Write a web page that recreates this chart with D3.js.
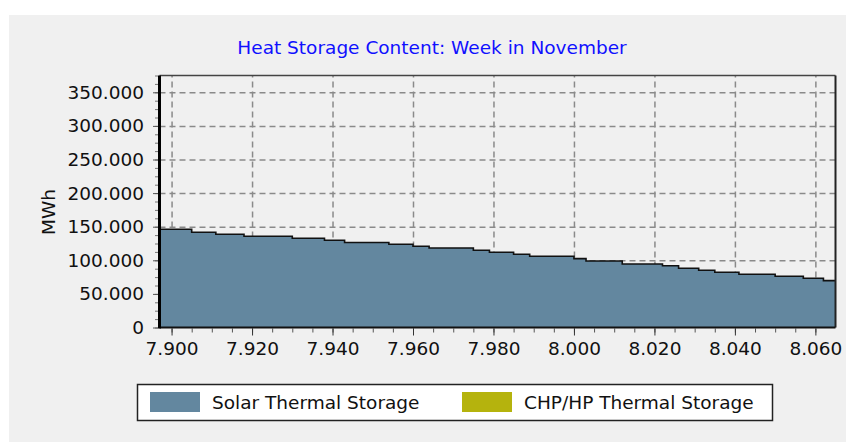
<!DOCTYPE html>
<meta charset="utf-8">
<style>
body { margin: 0; background: #fff; }
text { font-family: "DejaVu Sans", sans-serif; fill: #111; }
.grid line { stroke: #8a8a8a; stroke-width: 1.5px; stroke-dasharray: 6,4; }
.grid path { stroke-width: 0; }
</style>
<body>
<script src="https://d3js.org/d3.v7.min.js"></script>
<script>

// data (hours of the year, MWh)
var hours = [7897, 7905, 7911, 7918, 7930, 7938, 7943, 7954, 7960, 7964, 7975, 7979, 7985,
             7989, 8000, 8003, 8012, 8022, 8026, 8031, 8035, 8041, 8050, 8057, 8062, 8065];
var solarValues = [146200, 141800, 138800, 135800, 132800, 129900, 126600, 123900, 120900,
                   118400, 115000, 112000, 109000, 106000, 102500, 99000, 94600, 92000,
                   88200, 85200, 82200, 79200, 76200, 73300, 69700, 69700];
var chpValues = hours.map(function() { return 0; });
var seriesNames = ["Solar Thermal Storage", "CHP/HP Thermal Storage"];
var seriesColors = ["#63879f", "#b5b30d"];
var xMajorTicks = [7900, 7920, 7940, 7960, 7980, 8000, 8020, 8040, 8060];
var yMajorTicks = [0, 50000, 100000, 150000, 200000, 250000, 300000, 350000];
var titleText = "Heat Storage Content: Week in November";
var yLabel = "MWh";

var W = 846, H = 442;
var plot = {left: 159.5, right: 835.5, top: 75.5, bottom: 327.5};

var de = d3.formatLocale({decimal: ",", thousands: ".", grouping: [3], currency: ["", "€"]});
var fmt = de.format(",d");

var x = d3.scaleLinear().domain([7897, 8065]).range([plot.left, plot.right]);
var y = d3.scaleLinear().domain([0, 375000]).range([plot.bottom, plot.top]);

var svg = d3.select("body").append("svg")
    .attr("width", W)
    .attr("height", H);

// grey panel
svg.append("rect")
    .attr("x", 9).attr("y", 15)
    .attr("width", W - 9).attr("height", H - 15)
    .attr("fill", "#f0f0f0");

// title
svg.append("text")
    .attr("x", 432).attr("y", 54)
    .attr("text-anchor", "middle")
    .style("font-size", "18.5px")
    .style("fill", "#1010ff")
    .text(titleText);

// gridlines
svg.append("g")
    .attr("class", "grid")
    .attr("transform", "translate(" + plot.left + ",0)")
    .call(d3.axisLeft(y).tickValues(yMajorTicks.slice(1))
        .tickSize(-(plot.right - plot.left)).tickFormat(""));

svg.append("g")
    .attr("class", "grid")
    .attr("transform", "translate(0," + plot.bottom + ")")
    .call(d3.axisBottom(x).tickValues(xMajorTicks)
        .tickSize(-(plot.bottom - plot.top)).tickFormat(""));

// stacked series
var rows = hours.map(function(h, i) { return {h: h, solar: solarValues[i], chp: chpValues[i]}; });
var stack = d3.stack().keys(["solar", "chp"])(rows);

var area = d3.area()
    .curve(d3.curveStepAfter)
    .x(function(d) { return x(d.data.h); })
    .y0(function(d) { return y(d[0]); })
    .y1(function(d) { return y(d[1]); });

svg.selectAll(".series")
    .data(stack)
  .enter().append("path")
    .attr("class", "series")
    .attr("fill", function(d, i) { return seriesColors[i]; })
    .attr("d", area);

var topLine = d3.line()
    .curve(d3.curveStepAfter)
    .x(function(d) { return x(d.data.h); })
    .y(function(d) { return y(d[1]); });

svg.append("path")
    .datum(stack[0])
    .attr("fill", "none")
    .attr("stroke", "#111")
    .attr("stroke-width", 1.6)
    .attr("d", topLine);

// y axis ticks (minor + major)
var yMinor = d3.range(0, 375001, 12500);
var yAxisG = svg.append("g").attr("transform", "translate(" + (plot.left - 1.5) + ",0)");
yAxisG.call(d3.axisLeft(y).tickValues(yMinor).tickSize(3).tickFormat(""));
yAxisG.selectAll(".tick line").attr("stroke", "#777");
yAxisG.select(".domain").remove();

var yMajG = svg.append("g").attr("transform", "translate(" + (plot.left - 1.5) + ",0)");
yMajG.call(d3.axisLeft(y).tickValues(yMajorTicks).tickSize(5).tickPadding(9).tickFormat(fmt));
yMajG.select(".domain").remove();
yMajG.selectAll(".tick line").attr("stroke", "#555");
yMajG.selectAll("text").style("font-size", "18.5px").attr("fill", "#111");

// x axis ticks (minor + major)
var xMinor = d3.range(7900, 8065, 5);
var xAxisG = svg.append("g").attr("transform", "translate(0," + (plot.bottom + 1) + ")");
xAxisG.call(d3.axisBottom(x).tickValues(xMinor).tickSize(4).tickFormat(""));
xAxisG.selectAll(".tick line").attr("stroke", "#555");
xAxisG.select(".domain").remove();

var xMajG = svg.append("g").attr("transform", "translate(0," + (plot.bottom + 1) + ")");
xMajG.call(d3.axisBottom(x).tickValues(xMajorTicks).tickSize(7).tickPadding(6).tickFormat(fmt));
xMajG.select(".domain").remove();
xMajG.selectAll(".tick line").attr("stroke", "#333");
xMajG.selectAll("text").style("font-size", "18.5px").attr("fill", "#111");

// frame
svg.append("line")
    .attr("x1", plot.left).attr("x2", plot.right)
    .attr("y1", plot.top).attr("y2", plot.top)
    .attr("stroke", "#444").attr("stroke-width", 1.5);
svg.append("line")
    .attr("x1", plot.right).attr("x2", plot.right)
    .attr("y1", plot.top).attr("y2", plot.bottom)
    .attr("stroke", "#222").attr("stroke-width", 2);
svg.append("line")
    .attr("x1", plot.left).attr("x2", plot.right)
    .attr("y1", plot.bottom).attr("y2", plot.bottom)
    .attr("stroke", "#111").attr("stroke-width", 2);
svg.append("line")
    .attr("x1", plot.left).attr("x2", plot.left)
    .attr("y1", plot.top).attr("y2", plot.bottom + 1)
    .attr("stroke", "#000").attr("stroke-width", 3);

// y label
svg.append("text")
    .attr("transform", "translate(55,212) rotate(-90)")
    .attr("text-anchor", "middle")
    .style("font-size", "18.5px")
    .text(yLabel);

// legend
var legend = svg.append("g");
legend.append("rect")
    .attr("x", 137.5).attr("y", 384.5)
    .attr("width", 635).attr("height", 36)
    .attr("fill", "#fff")
    .attr("stroke", "#222").attr("stroke-width", 1.5);

var legX = [150, 462];
var items = legend.selectAll(".item")
    .data(seriesNames)
  .enter().append("g")
    .attr("class", "item")
    .attr("transform", function(d, i) { return "translate(" + legX[i] + ",392)"; });

items.append("rect")
    .attr("width", 50).attr("height", 20)
    .attr("fill", function(d, i) { return seriesColors[i]; });

items.append("text")
    .attr("x", 62).attr("y", 17)
    .style("font-size", "18.5px")
    .text(function(d) { return d; });

</script>
</body>
